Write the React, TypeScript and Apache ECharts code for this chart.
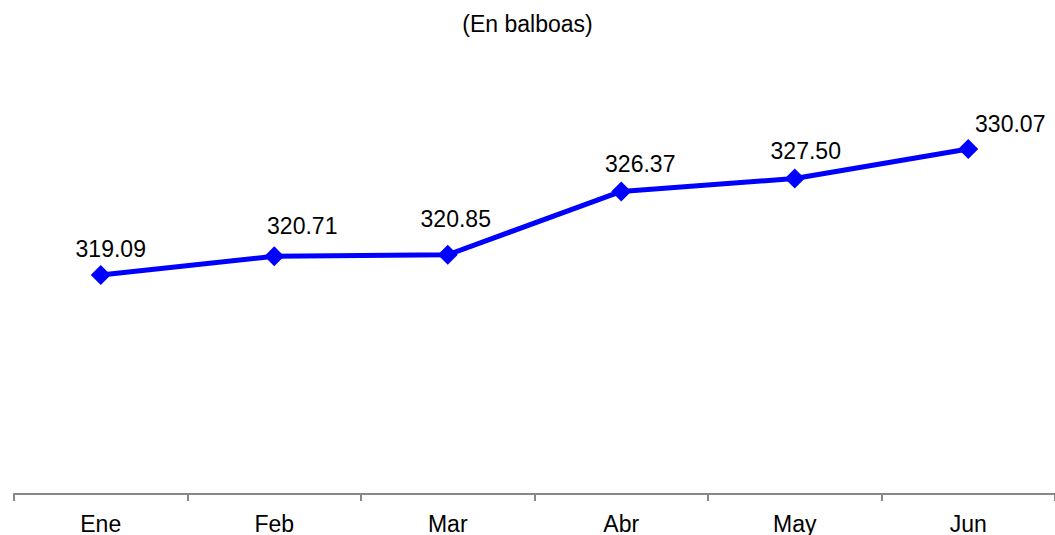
import React, { useEffect, useRef } from "react";
import * as echarts from "echarts";

const categories = ["Ene", "Feb", "Mar", "Abr", "May", "Jun"];
const values = [319.09, 320.71, 320.85, 326.37, 327.5, 330.07];
const labelOffsets: [number, number][] = [
  [10, 1],
  [28, -4],
  [8, -9],
  [19, -1],
  [11, -1],
  [42, 2],
];

export default function App() {
  const ref = useRef<HTMLDivElement>(null);
  useEffect(() => {
    if (!ref.current) return;
    const chart = echarts.init(ref.current, undefined, { renderer: "svg" });
    const font = "'Liberation Sans', Arial, sans-serif";
    chart.setOption({
      animation: false,
      backgroundColor: "#ffffff",
      title: {
        text: "(En balboas)",
        left: "center",
        top: 7,
        textStyle: { fontFamily: font, fontSize: 23, fontWeight: "normal", color: "#000" },
      },
      grid: { left: 14, right: 0, top: 35, bottom: 41, containLabel: false },
      xAxis: {
        type: "category",
        data: categories,
        boundaryGap: true,
        axisLine: { show: true, lineStyle: { color: "#888888", width: 2 } },
        axisTick: { show: true, length: 7, lineStyle: { color: "#888888", width: 2 } },
        axisLabel: { fontFamily: font, fontSize: 23, color: "#000", margin: 18 },
      },
      yAxis: {
        type: "value",
        min: 300,
        max: 340,
        show: false,
        splitLine: { show: false },
      },
      series: [
        {
          type: "line",
          data: values.map((v, i) => ({
            value: v,
            label: { offset: labelOffsets[i] },
          })),
          symbol: "diamond",
          symbolSize: 20,
          lineStyle: { color: "#0000ff", width: 5 },
          itemStyle: { color: "#0000ff" },
          label: {
            show: true,
            position: "top",
            distance: 5,
            fontFamily: font,
            fontSize: 23,
            color: "#000",
            formatter: (p: any) => Number(p.value).toFixed(2),
          },
        },
      ],
    });
    return () => chart.dispose();
  }, []);
  return (
    <div
      ref={ref}
      style={{ position: "fixed", left: 0, top: 0, width: 1055, height: 535 }}
    />
  );
}
